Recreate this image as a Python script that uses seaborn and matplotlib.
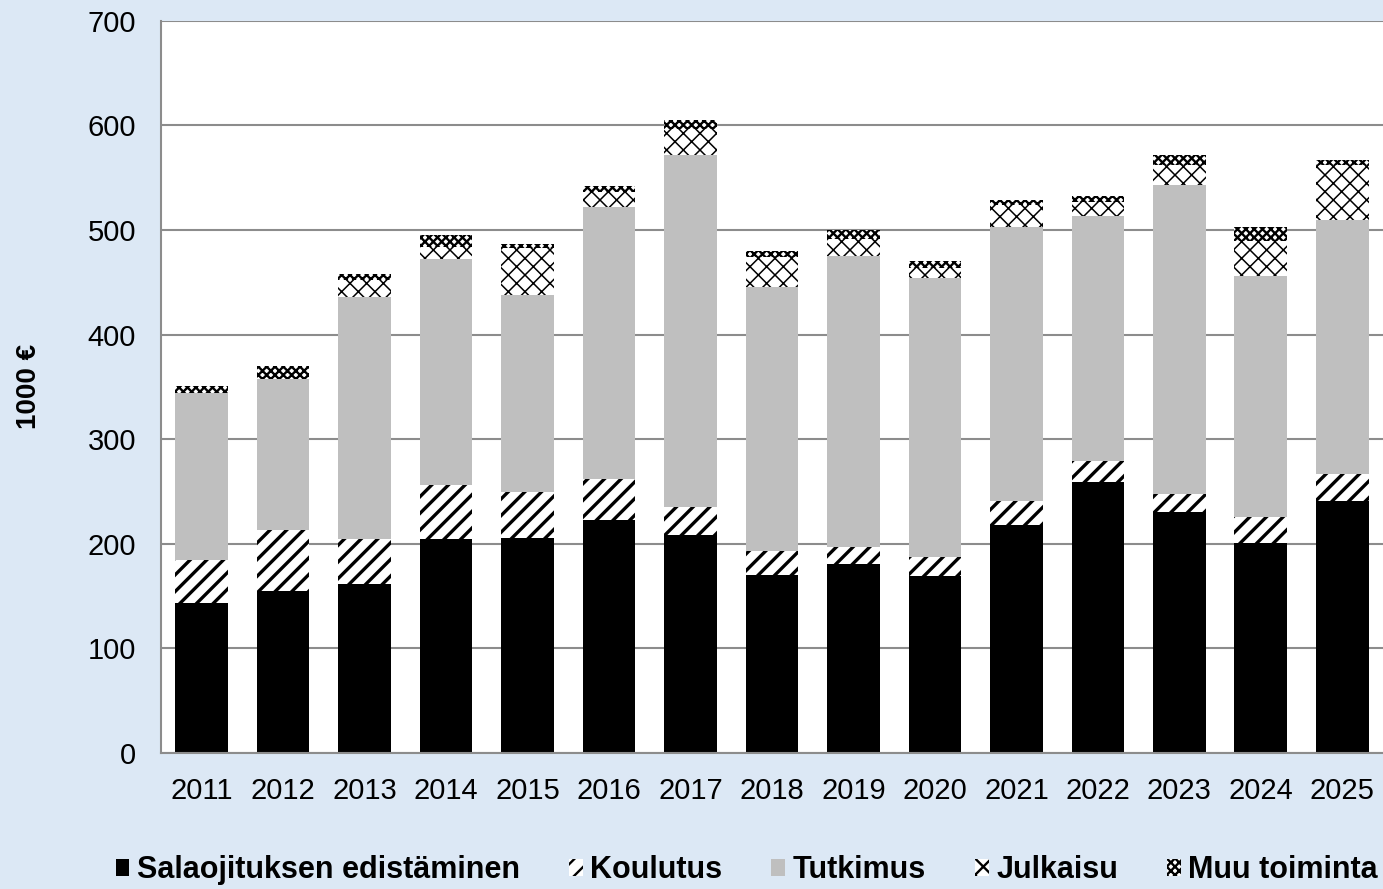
import numpy as np
import pandas as pd
import matplotlib
matplotlib.use('Agg')
import matplotlib.pyplot as plt
import seaborn as sns
from matplotlib.patches import Patch

# data (1000 €)
years = [str(y) for y in range(2011, 2026)]
edistaminen = [143, 155, 162, 205, 206, 223, 208, 170, 181, 169, 218, 259, 230, 201, 241]
koulutus = [42, 58, 43, 51, 44, 39, 27, 23, 16, 18, 23, 20, 18, 25, 26]
tutkimus = [159, 145, 231, 216, 188, 260, 337, 253, 278, 267, 262, 234, 295, 230, 243]
julkaisu = [0, 0, 16, 12, 45, 14, 25, 28, 16, 10, 21, 14, 19, 34, 52]
muu = [7, 12, 6, 11, 4, 6, 8, 6, 9, 6, 5, 6, 10, 13, 5]

labels = ['Salaojituksen edistäminen', 'Koulutus', 'Tutkimus', 'Julkaisu', 'Muu toiminta']
series = [edistaminen, koulutus, tutkimus, julkaisu, muu]
faces = ['black', 'white', '#bfbfbf', 'white', 'white']
hatches = [None, '//', None, 'xx', 'xxxx']
hatch_lw = [1.0, 2.4, 1.0, 1.1, 1.7]

bg = '#dce8f5'
sns.set_theme(style='white')
plt.rcParams['font.family'] = ['Liberation Sans', 'DejaVu Sans']
plt.rcParams['text.color'] = 'black'
plt.rcParams['axes.labelcolor'] = 'black'

fig = plt.figure(figsize=(13.83, 8.89), dpi=100, facecolor=bg)
ax = fig.add_axes([0.1164, 0.153, 0.8836, 0.8235])
ax.set_facecolor('white')

bottom = np.zeros(len(years))
for lab, vals, fc, h, lw in zip(labels, series, faces, hatches, hatch_lw):
    plt.rcParams['hatch.linewidth'] = lw
    n_before = len(ax.patches)
    sns.barplot(x=years, y=vals, bottom=bottom, color=fc, saturation=1,
                width=0.646, hatch=h, edgecolor='black', linewidth=0,
                errorbar=None, ax=ax, zorder=3)
    for p in ax.patches[n_before:]:
        if hasattr(p, 'set_hatch_linewidth'):
            p.set_hatch_linewidth(lw)
    bottom = bottom + np.array(vals)

ax.set_xlim(-0.5, 14.5)
ax.set_ylim(0, 700)
ax.set_yticks(range(0, 701, 100))
ax.yaxis.grid(True, color='#8c8c8c', linewidth=1.5, zorder=0)
ax.set_axisbelow(True)
for side in ['top', 'right']:
    ax.spines[side].set_visible(False)
for side in ['left', 'bottom']:
    ax.spines[side].set_color('#8c8c8c')
    ax.spines[side].set_linewidth(1.5)
    ax.spines[side].set_zorder(4)

ax.tick_params(axis='both', length=0, labelsize=21, colors='black')
ax.tick_params(axis='y', pad=18)
ax.tick_params(axis='x', pad=17)
ax.set_xlabel('')
ax.set_ylabel('1000 €', fontsize=20, fontweight='bold', labelpad=0, color='black')
ax.yaxis.set_label_coords(-0.097, 0.5)

handles = [Patch(facecolor=fc, hatch=h, edgecolor='black', linewidth=0)
           for fc, h in zip(faces, hatches)]
fig.legend(handles, labels, loc='center', bbox_to_anchor=(0.54, 0.021), ncol=5,
           frameon=False, prop={'size': 22, 'weight': 'bold'}, labelcolor='black',
           handlelength=0.45, handleheight=0.45, handletextpad=0.25,
           columnspacing=1.6)

fig.savefig('out.png', dpi=100, facecolor=bg)
